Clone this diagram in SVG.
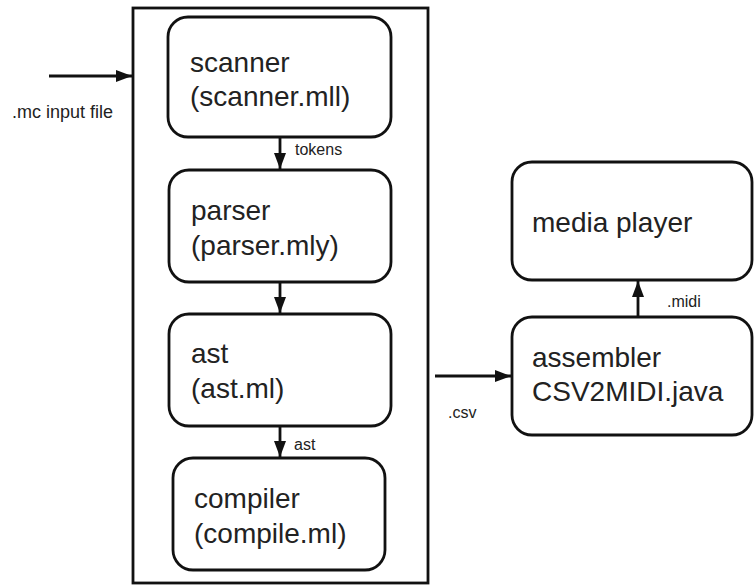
<svg xmlns="http://www.w3.org/2000/svg" width="754" height="586" viewBox="0 0 754 586">
<style>
.box{fill:#fff;stroke:#111;stroke-width:2.8}
.t{font-family:"Liberation Sans",Arial,sans-serif;font-size:28px;fill:#222}
.s{font-family:"Liberation Sans",Arial,sans-serif;font-size:16px;fill:#222}
.c{stroke:#111;stroke-width:2.8;fill:none}
</style>
<defs>
<marker id="ah" viewBox="0 0 16 12" refX="16" refY="6" markerWidth="16" markerHeight="12" markerUnits="userSpaceOnUse" orient="auto">
<path d="M0,0 L16,6 L0,12 Z" fill="#111"/>
</marker>
</defs>
<rect width="754" height="586" fill="#fff"/>
<g id="container"><rect x="133" y="8" width="295" height="575" fill="none" stroke="#111" stroke-width="2.8"/></g>
<g id="scanner"><rect class="box" x="168" y="17" width="223" height="120" rx="20"/><text class="t" x="190" y="72">scanner</text><text class="t" x="190" y="106">(scanner.mll)</text></g>
<g id="parser"><rect class="box" x="169" y="170" width="222" height="112" rx="20"/><text class="t" x="191" y="220">parser</text><text class="t" x="191" y="255">(parser.mly)</text></g>
<g id="ast"><rect class="box" x="169" y="314" width="222" height="112" rx="20"/><text class="t" x="191" y="363">ast</text><text class="t" x="191" y="398">(ast.ml)</text></g>
<g id="compiler"><rect class="box" x="173" y="458" width="212" height="112" rx="20"/><text class="t" x="194" y="508">compiler</text><text class="t" x="194" y="543">(compile.ml)</text></g>
<g id="mediaplayer"><rect class="box" x="512" y="162" width="240" height="118" rx="20"/><text class="t" x="532" y="232">media player</text></g>
<g id="assembler"><rect class="box" x="512" y="317" width="240" height="118" rx="20"/><text class="t" x="532" y="367">assembler</text><text class="t" x="532" y="401">CSV2MIDI.java</text></g>
<g id="connectors">
<line class="c" x1="49" y1="76" x2="132" y2="76" marker-end="url(#ah)"/>
<line class="c" x1="280" y1="138" x2="280" y2="169" marker-end="url(#ah)"/>
<line class="c" x1="280" y1="283" x2="280" y2="313" marker-end="url(#ah)"/>
<line class="c" x1="280" y1="427" x2="280" y2="457" marker-end="url(#ah)"/>
<line class="c" x1="435" y1="376" x2="511" y2="376" marker-end="url(#ah)"/>
<line class="c" x1="638" y1="316" x2="638" y2="281" marker-end="url(#ah)"/>
<text class="s" x="12" y="118" style="font-size:18px">.mc input file</text>
<text class="s" x="295" y="155">tokens</text>
<text class="s" x="294" y="450">ast</text>
<text class="s" x="448" y="418">.csv</text>
<text class="s" x="667" y="307">.midi</text>
</g>
</svg>
